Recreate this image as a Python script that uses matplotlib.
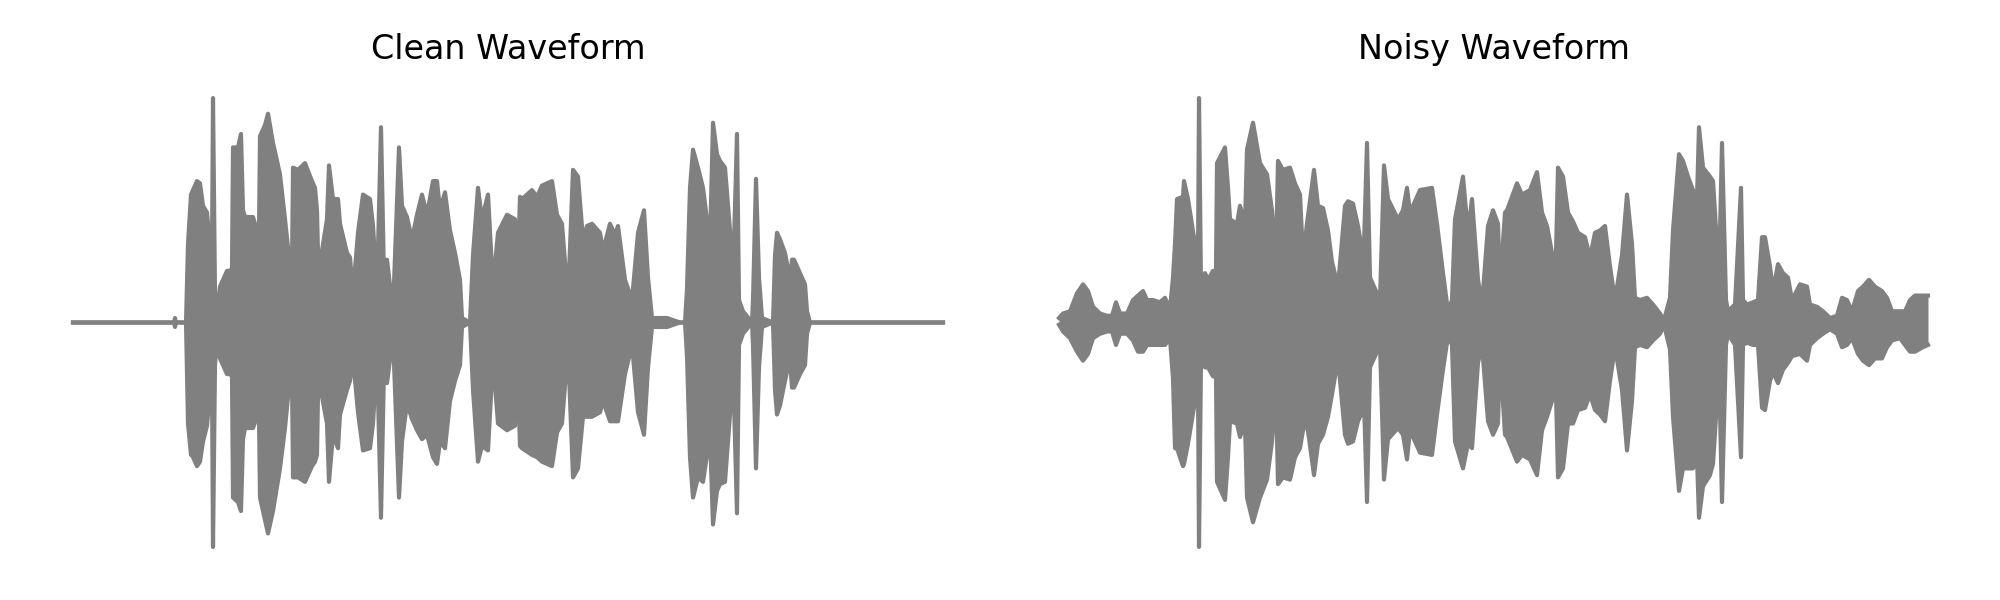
import matplotlib
matplotlib.use("Agg")
import matplotlib.pyplot as plt

titles = ["Clean Waveform", "Noisy Waveform"]

# Envelope of each waveform, read per frame (frame index, upper peak, lower peak)
clean_frame = [0, 101, 102, 103, 113, 115, 118, 119, 124, 127, 130, 134, 135, 139, 140, 142, 144, 147, 154, 157,
               159, 160, 165, 168, 170, 172, 180, 184, 186, 187, 192, 195, 200, 207, 212, 217, 219, 220, 225, 232,
               239, 242, 244, 245, 249, 254, 256, 260, 265, 267, 274, 277, 280, 285, 290, 297, 300, 304, 308, 311,
               314, 320, 326, 329, 334, 339, 344, 349, 354, 360, 364, 367, 372, 377, 382, 387, 389, 397, 400, 405,
               409, 415, 420, 425, 434, 442, 444, 447, 449, 459, 464, 469, 479, 484, 489, 495, 500, 505, 510, 514,
               519, 527, 530, 537, 542, 545, 552, 559, 565, 571, 575, 579, 594, 607, 612, 614, 617, 620, 625, 630,
               637, 640, 644, 647, 652, 657, 660, 664, 666, 670, 679, 680, 683, 686, 689, 700, 702, 704, 707, 712,
               717, 719, 721, 727, 732, 734, 737, 870]
clean_upper = [0, 0, 0.02, 0, 0, 0.35, 0.57, 0.58, 0.63, 0.62, 0.52, 0.49, 0.44, 0.28, 1.0, 0.13, 0.05, 0.16, 0.23, 0.23,
               0.24, 0.78, 0.78, 0.84, 0.50, 0.47, 0.47, 0.41, 0.40, 0.83, 0.88, 0.93, 0.80, 0.66, 0.46, 0.25, 0.25, 0.69, 0.68, 0.71,
               0.63, 0.60, 0.50, 0.31, 0.32, 0.46, 0.70, 0.55, 0.55, 0.44, 0.31, 0.29, 0.13, 0.40, 0.57, 0.55, 0.43, 0.14, 0.87, 0.20,
               0.28, 0.05, 0.78, 0.52, 0.47, 0.37, 0.48, 0.57, 0.48, 0.63, 0.63, 0.50, 0.58, 0.41, 0.31, 0.19, 0.02, 0, 0.30, 0.60,
               0.46, 0.57, 0.16, 0.40, 0.48, 0.46, 0.13, 0.56, 0.55, 0.59, 0.56, 0.61, 0.63, 0.48, 0.44, 0.10, 0.68, 0.65, 0.37, 0.43,
               0.44, 0.40, 0.32, 0.44, 0.39, 0.43, 0.19, 0.10, 0.40, 0.50, 0.20, 0.02, 0.02, 0, 0, 0.15, 0.60, 0.77, 0.69, 0.60,
               0.35, 0.89, 0.75, 0.72, 0.69, 0.41, 0.19, 0.84, 0.10, 0.05, 0, 0.10, 0.64, 0.20, 0.02, 0, 0.30, 0.40, 0.37, 0.31,
               0.19, 0.28, 0.28, 0.22, 0.17, 0.05, 0, 0]
clean_lower = [0, 0, -0.02, 0, 0, -0.45, -0.59, -0.59, -0.64, -0.62, -0.53, -0.46, -0.41, -0.25, -1.0, -0.19, -0.08, -0.16, -0.23, -0.23,
               -0.24, -0.78, -0.80, -0.84, -0.52, -0.47, -0.47, -0.42, -0.42, -0.78, -0.88, -0.94, -0.84, -0.65, -0.47, -0.24, -0.25, -0.69, -0.69, -0.71,
               -0.64, -0.62, -0.59, -0.32, -0.33, -0.45, -0.71, -0.50, -0.56, -0.41, -0.30, -0.26, -0.16, -0.40, -0.57, -0.56, -0.45, -0.14, -0.87, -0.20,
               -0.27, -0.06, -0.78, -0.53, -0.36, -0.43, -0.48, -0.52, -0.50, -0.60, -0.63, -0.53, -0.56, -0.35, -0.26, -0.19, -0.02, 0, -0.30, -0.62,
               -0.55, -0.57, -0.16, -0.45, -0.48, -0.46, -0.11, -0.55, -0.56, -0.59, -0.60, -0.62, -0.64, -0.49, -0.45, -0.11, -0.69, -0.65, -0.42, -0.42,
               -0.42, -0.40, -0.35, -0.44, -0.44, -0.44, -0.23, -0.10, -0.40, -0.50, -0.20, -0.02, -0.02, 0, 0, -0.15, -0.60, -0.78, -0.69, -0.71,
               -0.50, -0.90, -0.75, -0.72, -0.71, -0.41, -0.19, -0.85, -0.10, -0.05, 0, -0.10, -0.65, -0.20, -0.02, 0, -0.30, -0.41, -0.37, -0.26,
               -0.16, -0.29, -0.29, -0.23, -0.19, -0.05, 0, 0]

noisy_frame = [0, 4, 11, 18, 24, 29, 34, 41, 48, 53, 57, 61, 68, 74, 79, 84, 88, 94, 101, 106,
               111, 114, 116, 118, 124, 125, 129, 136, 139, 140, 142, 143, 146, 149, 154, 157, 158, 166, 169, 171,
               178, 181, 186, 188, 194, 201, 208, 213, 217, 219, 224, 231, 236, 241, 244, 248, 255, 259, 264, 269,
               273, 279, 286, 289, 294, 299, 302, 304, 308, 311, 321, 325, 329, 339, 344, 348, 351, 361, 373, 378,
               384, 389, 393, 396, 404, 409, 413, 419, 423, 429, 434, 439, 441, 446, 448, 458, 463, 471, 478, 483,
               488, 493, 496, 499, 504, 509, 514, 519, 526, 531, 536, 541, 546, 551, 556, 563, 568, 573, 576, 581,
               588, 594, 601, 605, 611, 614, 620, 624, 629, 634, 638, 640, 644, 651, 654, 658, 660, 663, 667, 669,
               676, 682, 684, 688, 694, 699, 703, 706, 711, 714, 719, 724, 729, 733, 741, 748, 751, 758, 764, 771,
               778, 783, 788, 793, 799, 804, 810, 816, 823, 828, 833, 841, 846, 851, 856, 864, 869]
noisy_upper = [0.02, 0.04, 0.05, 0.13, 0.17, 0.14, 0.07, 0.04, 0.03, 0.03, 0.09, 0.04, 0.04, 0.10, 0.12, 0.14, 0.10, 0.10, 0.09, 0.11,
               0.06, 0.20, 0.35, 0.55, 0.56, 0.63, 0.55, 0.35, 0.28, 1.0, 0.15, 0.14, 0.22, 0.19, 0.23, 0.23, 0.71, 0.78, 0.60, 0.46,
               0.44, 0.52, 0.44, 0.77, 0.89, 0.71, 0.66, 0.50, 0.28, 0.72, 0.68, 0.69, 0.62, 0.57, 0.29, 0.44, 0.68, 0.52, 0.51, 0.41,
               0.27, 0.16, 0.52, 0.54, 0.53, 0.43, 0.35, 0.19, 0.80, 0.20, 0.10, 0.70, 0.55, 0.46, 0.50, 0.60, 0.49, 0.59, 0.60, 0.44,
               0.22, 0.05, 0.10, 0.46, 0.65, 0.40, 0.55, 0.19, 0.08, 0.43, 0.50, 0.44, 0.16, 0.49, 0.50, 0.62, 0.57, 0.59, 0.67, 0.49,
               0.43, 0.31, 0.11, 0.69, 0.65, 0.49, 0.45, 0.40, 0.38, 0.29, 0.40, 0.41, 0.43, 0.25, 0.10, 0.30, 0.57, 0.35, 0.11, 0.10,
               0.11, 0.08, 0.04, 0.01, 0.11, 0.41, 0.75, 0.72, 0.65, 0.59, 0.55, 0.87, 0.69, 0.65, 0.63, 0.35, 0.19, 0.80, 0.10, 0.05,
               0.08, 0.60, 0.10, 0.08, 0.09, 0.10, 0.38, 0.38, 0.25, 0.14, 0.26, 0.22, 0.20, 0.10, 0.17, 0.16, 0.08, 0.07, 0.05, 0.02,
               0.03, 0.11, 0.10, 0.05, 0.14, 0.16, 0.19, 0.16, 0.14, 0.11, 0.05, 0.05, 0.05, 0.10, 0.12, 0.12, 0.12]
noisy_lower = [-0.01, -0.04, -0.07, -0.13, -0.17, -0.14, -0.07, -0.05, -0.04, -0.04, -0.10, -0.05, -0.05, -0.08, -0.13, -0.13, -0.10, -0.10, -0.10, -0.10,
               -0.07, -0.25, -0.56, -0.56, -0.64, -0.63, -0.54, -0.35, -0.26, -1.0, -0.16, -0.16, -0.20, -0.20, -0.24, -0.24, -0.71, -0.79, -0.60, -0.44,
               -0.45, -0.51, -0.45, -0.78, -0.89, -0.78, -0.70, -0.53, -0.30, -0.72, -0.69, -0.70, -0.60, -0.56, -0.48, -0.45, -0.68, -0.54, -0.50, -0.42,
               -0.32, -0.16, -0.50, -0.54, -0.53, -0.44, -0.41, -0.20, -0.80, -0.20, -0.10, -0.70, -0.52, -0.47, -0.50, -0.61, -0.48, -0.58, -0.59, -0.41,
               -0.21, -0.06, -0.10, -0.53, -0.65, -0.54, -0.56, -0.18, -0.10, -0.44, -0.50, -0.45, -0.14, -0.50, -0.51, -0.62, -0.59, -0.61, -0.68, -0.48,
               -0.42, -0.35, -0.13, -0.69, -0.65, -0.45, -0.45, -0.39, -0.38, -0.32, -0.39, -0.41, -0.44, -0.26, -0.11, -0.30, -0.57, -0.35, -0.11, -0.10,
               -0.11, -0.08, -0.05, -0.01, -0.12, -0.42, -0.75, -0.65, -0.65, -0.65, -0.60, -0.87, -0.73, -0.68, -0.63, -0.35, -0.19, -0.80, -0.10, -0.05,
               -0.10, -0.60, -0.10, -0.09, -0.10, -0.10, -0.38, -0.39, -0.26, -0.22, -0.27, -0.21, -0.18, -0.15, -0.14, -0.17, -0.10, -0.07, -0.05, -0.03,
               -0.05, -0.11, -0.10, -0.07, -0.14, -0.17, -0.19, -0.16, -0.16, -0.11, -0.08, -0.07, -0.10, -0.13, -0.13, -0.11, -0.10]

color = "gray"

fig = plt.figure(figsize=(10, 3), dpi=200)
axes = [fig.add_axes([0.01475, 0.051, 0.4785, 0.823]),
        fig.add_axes([0.50775, 0.051, 0.4785, 0.823])]

series = [(clean_frame, clean_upper, clean_lower), (noisy_frame, noisy_upper, noisy_lower)]
for ax, title, (fr, up, lo) in zip(axes, titles, series):
    ax.fill_between(fr, lo, up, color=color, linewidth=0)
    ax.plot(fr, up, color=color, linewidth=1.5)
    ax.plot(fr, lo, color=color, linewidth=1.5)
    ax.set_xlim(-43.5, 913.5)
    ax.set_ylim(-1.1, 1.1)
    ax.set_title(title, fontsize=12)
    ax.axis("off")

fig.savefig("out.png", dpi=200)
